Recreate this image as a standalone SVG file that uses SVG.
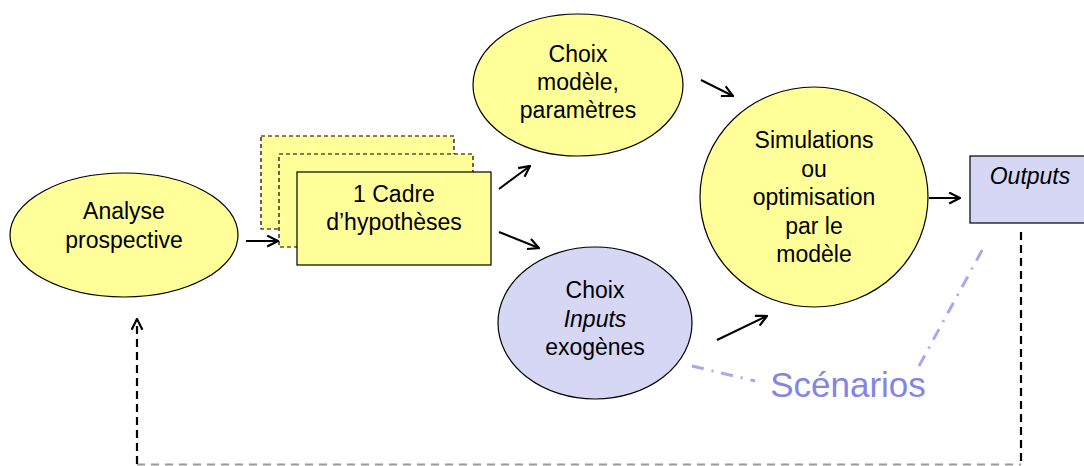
<svg xmlns="http://www.w3.org/2000/svg" width="1084" height="466" viewBox="0 0 1084 466">
<defs>
<style>
.t{font-family:"Liberation Sans",Arial,sans-serif;font-size:23px;fill:#000;text-anchor:middle}
.y{fill:#ffff99;stroke:#000;stroke-width:1.2}
.l{fill:#d6d6f5;stroke:#000;stroke-width:1.2}
.db{fill:#ffff99;stroke:#000;stroke-width:1.2;stroke-dasharray:4 3}
.a{fill:none;stroke:#000;stroke-width:2;marker-end:url(#ah)}
.dd{fill:none;stroke:#a8a8ee;stroke-width:3;stroke-dasharray:12 8 2 8}
</style>
<marker id="ah" viewBox="0 0 12 12" refX="11" refY="6" markerWidth="13" markerHeight="13" markerUnits="userSpaceOnUse" orient="auto">
<path d="M1,1 L11,6 L1,11" fill="none" stroke="#000" stroke-width="2"/>
</marker>
</defs>
<rect width="1084" height="466" fill="#fff"/>
<g id="connectors">
<line class="a" x1="246" y1="241" x2="278" y2="241"/>
<line class="a" x1="499" y1="189" x2="530" y2="166"/>
<line class="a" x1="499" y1="232" x2="539" y2="248"/>
<line class="a" x1="701" y1="80" x2="733" y2="96"/>
<line class="a" x1="717" y1="340" x2="767" y2="316"/>
<line class="a" x1="929" y1="198" x2="960" y2="198"/>
<line x1="1021" y1="232" x2="1021" y2="462" stroke="#000" stroke-width="2.2" stroke-dasharray="8 5"/>
<line x1="137" y1="464.5" x2="1021" y2="464.5" stroke="#999" stroke-width="1.8" stroke-dasharray="8 6"/>
<line x1="137" y1="464" x2="137" y2="319" stroke="#000" stroke-width="2.2" stroke-dasharray="8 5" marker-end="url(#ah)"/>
<line class="dd" x1="692" y1="366" x2="755" y2="381"/>
<line class="dd" x1="919" y1="366" x2="986" y2="243"/>
</g>
<g id="analyse">
<ellipse class="y" cx="124" cy="235" rx="114" ry="62"/>
<text class="t" x="124" y="219">Analyse</text>
<text class="t" x="124" y="248">prospective</text>
</g>
<g id="cadre">
<rect class="db" x="261" y="136" width="193" height="93"/>
<rect class="db" x="279" y="154" width="194" height="93"/>
<rect class="y" x="297" y="172" width="194" height="93"/>
<text class="t" x="394" y="202">1 Cadre</text>
<text class="t" x="394" y="230">d’hypothèses</text>
</g>
<g id="choix-modele">
<ellipse class="y" cx="578" cy="85" rx="105" ry="71"/>
<text class="t" x="578" y="62">Choix</text>
<text class="t" x="578" y="90">modèle,</text>
<text class="t" x="578" y="118">paramètres</text>
</g>
<g id="choix-inputs">
<ellipse class="l" cx="595" cy="323" rx="97" ry="76"/>
<text class="t" x="595" y="298">Choix</text>
<text class="t" x="595" y="327" font-style="italic">Inputs</text>
<text class="t" x="595" y="355">exogènes</text>
</g>
<g id="simulations">
<ellipse class="y" cx="814" cy="197" rx="114" ry="110"/>
<text class="t" x="814" y="148">Simulations</text>
<text class="t" x="814" y="177">ou</text>
<text class="t" x="814" y="205">optimisation</text>
<text class="t" x="814" y="234">par le</text>
<text class="t" x="814" y="262">modèle</text>
</g>
<g id="outputs">
<rect class="l" x="970" y="156" width="130" height="67"/>
<text class="t" x="1030" y="184" font-style="italic">Outputs</text>
</g>
<g id="scenarios">
<text x="848" y="397" font-family="Liberation Sans, Arial, sans-serif" font-size="35" fill="#8484e4" text-anchor="middle">Scénarios</text>
</g>
</svg>
